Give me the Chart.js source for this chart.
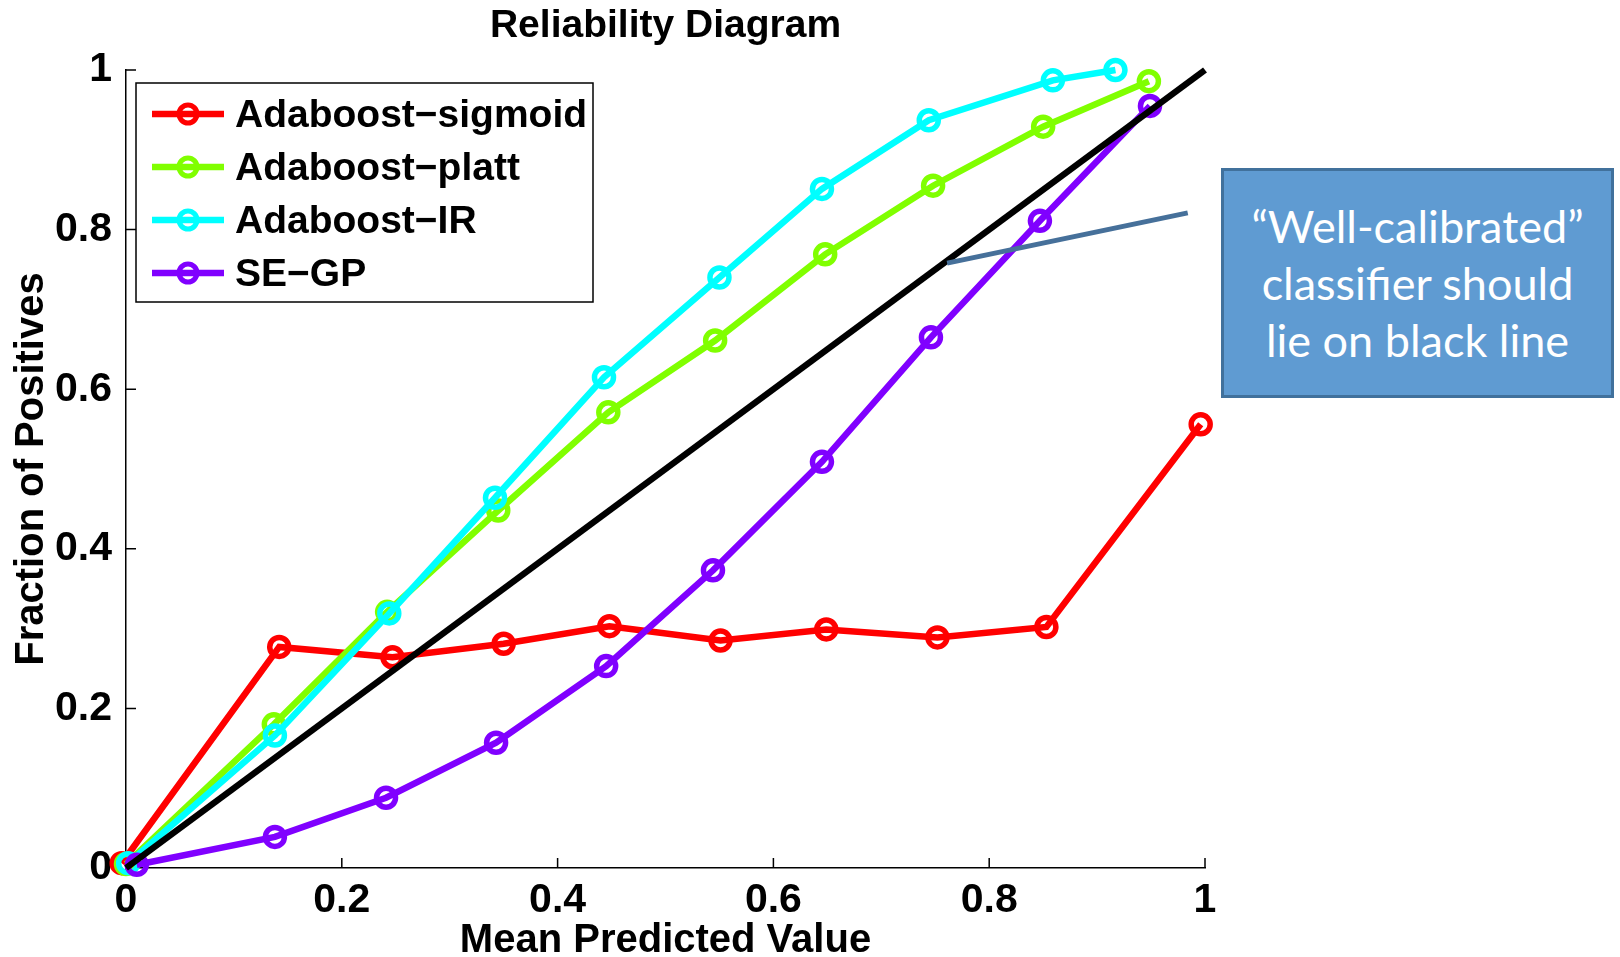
<!DOCTYPE html>
<html>
<head>
<meta charset="utf-8">
<title>Reliability Diagram</title>
<script src="https://cdn.jsdelivr.net/npm/chart.js@4.4.1/dist/chart.umd.min.js"></script>
<style>
  html, body { margin: 0; padding: 0; background: #fff; }
  #wrap { position: relative; width: 1620px; height: 957px; }
  #note {
    position: absolute; left: 1221px; top: 168px; width: 393px; height: 230px;
    box-sizing: border-box; background: #5f9bd2; border: 3px solid #41719c;
    color: #fff; font-family: Lato, "Open Sans", sans-serif; font-size: 45px;
    line-height: 57px; text-align: center;
    display: flex; align-items: center; justify-content: center;
  }
</style>
</head>
<body>
<div id="wrap">
  <canvas id="chart" width="1620" height="957"></canvas>
  <div id="note">“Well-calibrated”<br>classifier should<br>lie on black line</div>
</div>
<script>
// values
const sigmoidX = [-0.004, 0.142, 0.247, 0.350, 0.448, 0.551, 0.649, 0.752, 0.853, 0.996];
const sigmoidY = [0.006, 0.277, 0.264, 0.281, 0.303, 0.285, 0.299, 0.289, 0.302, 0.556];
const plattX = [0.000, 0.137, 0.242, 0.345, 0.447, 0.546, 0.648, 0.748, 0.850, 0.948];
const plattY = [0.005, 0.180, 0.321, 0.448, 0.571, 0.661, 0.769, 0.855, 0.929, 0.986];
const irX = [0.002, 0.138, 0.244, 0.342, 0.443, 0.550, 0.645, 0.744, 0.859, 0.917];
const irY = [0.006, 0.166, 0.319, 0.464, 0.615, 0.740, 0.851, 0.937, 0.987, 1.000];
const gpX = [0.010, 0.138, 0.241, 0.343, 0.445, 0.544, 0.645, 0.746, 0.847, 0.949];
const gpY = [0.004, 0.039, 0.088, 0.157, 0.253, 0.373, 0.509, 0.665, 0.811, 0.955];
const diagX = [0, 1];
const diagY = [0, 1];
const pointerX = [0.761, 0.984];
const pointerY = [0.758, 0.821];

const seriesLabels = ['Adaboost\u2212sigmoid', 'Adaboost\u2212platt', 'Adaboost\u2212IR', 'SE\u2212GP'];
const seriesColors = ['#ff0000', '#80ff00', '#00ffff', '#8000ff'];
const tickValues = [0, 0.2, 0.4, 0.6, 0.8, 1];

const matFont = '"Liberation Sans Narrow", "Liberation Sans", Arial, sans-serif';

const toPoints = (xs, ys) => xs.map((x, i) => ({ x: x, y: ys[i] }));
const tickText = v => String(Number(v.toFixed(1)));

function series(label, xs, ys, color, order) {
  return {
    label: label,
    data: toPoints(xs, ys),
    borderColor: color,
    backgroundColor: color,
    borderWidth: 6.5,
    pointRadius: 9.5,
    pointBorderWidth: 5.5,
    pointBackgroundColor: 'rgba(0,0,0,0)',
    pointBorderColor: color,
    pointHoverRadius: 9.5,
    tension: 0,
    clip: false,
    order: order
  };
}

// title, inward ticks and the boxed legend
const decorations = {
  id: 'decorations',
  beforeDatasetsDraw(chart) {
    const ctx = chart.ctx;
    const xs = chart.scales.x, ys = chart.scales.y;
    ctx.save();
    ctx.strokeStyle = '#000';
    ctx.lineWidth = 1.5;
    ctx.beginPath();
    tickValues.forEach(v => {
      if (v === 0) return;
      const px = xs.getPixelForValue(v);
      ctx.moveTo(px, ys.bottom);
      ctx.lineTo(px, ys.bottom - 10);
      const py = ys.getPixelForValue(v);
      ctx.moveTo(xs.left, py);
      ctx.lineTo(xs.left + 10, py);
    });
    ctx.stroke();
    ctx.restore();
  },
  afterDraw(chart) {
    const ctx = chart.ctx;
    const area = chart.chartArea;
    ctx.save();
    ctx.fillStyle = '#000';
    ctx.font = 'bold 39px ' + matFont;
    ctx.textAlign = 'center';
    ctx.textBaseline = 'middle';
    ctx.fillText('Reliability Diagram', (area.left + area.right) / 2, 26);

    // legend box
    const bx = 136, by = 83, bw = 457, bh = 219;
    ctx.fillStyle = '#fff';
    ctx.fillRect(bx, by, bw, bh);
    ctx.strokeStyle = '#000';
    ctx.lineWidth = 1.5;
    ctx.strokeRect(bx, by, bw, bh);
    ctx.font = 'bold 39px ' + matFont;
    ctx.textAlign = 'left';
    seriesLabels.forEach((label, i) => {
      const cy = by + 31 + i * 53;
      ctx.strokeStyle = seriesColors[i];
      ctx.lineWidth = 6.5;
      ctx.beginPath();
      ctx.moveTo(bx + 16, cy);
      ctx.lineTo(bx + 88, cy);
      ctx.stroke();
      ctx.lineWidth = 5;
      ctx.beginPath();
      ctx.arc(bx + 52, cy, 9, 0, Math.PI * 2);
      ctx.stroke();
      ctx.fillStyle = '#000';
      ctx.fillText(label, bx + 99, cy + 2);
    });
    ctx.restore();
  }
};

const axisTick = { family: matFont, size: 41, weight: 'bold' };

new Chart(document.getElementById('chart'), {
  type: 'line',
  data: {
    datasets: [
      series(seriesLabels[0], sigmoidX, sigmoidY, seriesColors[0], 5),
      series(seriesLabels[1], plattX, plattY, seriesColors[1], 4),
      series(seriesLabels[2], irX, irY, seriesColors[2], 3),
      series(seriesLabels[3], gpX, gpY, seriesColors[3], 2),
      {
        label: 'diagonal',
        data: toPoints(diagX, diagY),
        borderColor: '#000',
        borderWidth: 6.5,
        pointRadius: 0,
        clip: false,
        order: 1
      },
      {
        label: 'pointer',
        data: toPoints(pointerX, pointerY),
        borderColor: '#46709a',
        borderWidth: 5,
        pointRadius: 0,
        clip: false,
        order: 0
      }
    ]
  },
  options: {
    responsive: false,
    animation: false,
    devicePixelRatio: 1,
    layout: { padding: { left: 0, right: 415, top: 70, bottom: 0 } },
    plugins: {
      legend: { display: false },
      title: { display: false },
      tooltip: { enabled: false }
    },
    scales: {
      x: {
        type: 'linear',
        min: 0,
        max: 1,
        afterFit: scale => { scale.height = 89; },
        ticks: { stepSize: 0.2, color: '#000', font: axisTick, padding: 8, maxRotation: 0, callback: tickText },
        grid: { display: false, drawTicks: false },
        border: { display: true, color: '#000', width: 1.5 },
        title: {
          display: true,
          text: 'Mean Predicted Value',
          color: '#000',
          font: { family: matFont, size: 40, weight: 'bold', lineHeight: 0.8 },
          padding: { top: 0, bottom: 0 }
        }
      },
      y: {
        type: 'linear',
        min: 0,
        max: 1,
        afterFit: scale => { scale.width = 126; },
        ticks: { stepSize: 0.2, color: '#000', font: axisTick, padding: 14, callback: tickText },
        grid: { display: false, drawTicks: false },
        border: { display: true, color: '#000', width: 1.5 },
        title: {
          display: true,
          text: 'Fraction of Positives',
          color: '#000',
          font: { family: matFont, size: 40, weight: 'bold', lineHeight: 1 },
          padding: { top: 12, bottom: 0 }
        }
      }
    }
  },
  plugins: [decorations]
});
</script>
</body>
</html>
